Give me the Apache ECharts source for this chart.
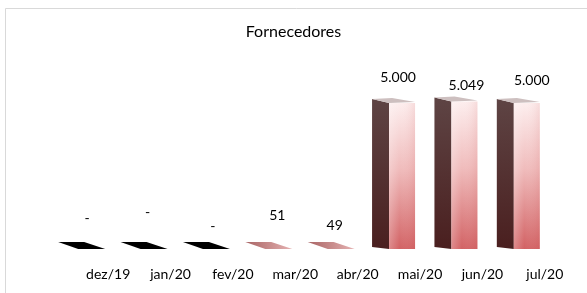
<!DOCTYPE html>
<html>
<head>
<meta charset="utf-8">
<script src="https://cdn.jsdelivr.net/npm/echarts@6/dist/echarts.min.js"></script>
<style>
  html, body { margin: 0; padding: 0; background: #fff; }
  #main { width: 587px; height: 293px; }
</style>
</head>
<body>
<div id="main"></div>
<script>
'use strict';
// dados do grafico
var categorias = ['dez/19', 'jan/20', 'fev/20', 'mar/20', 'abr/20', 'mai/20', 'jun/20', 'jul/20'];
var valores = [0, 0, 0, 51, 49, 5000, 5049, 5000];

// deslocamento dos rotulos (estilo, como no excel 3D)
var rotuloDx = [-21, -23, -20, -18, -23, -22, -16, -13];
var rotuloDy = [-29, -35, -21, -30, -20, -22, -12, -19];

(function() {
    var myChart = echarts.init(document.getElementById('main'));
    var fonte = 'Lato, "Noto Sans", sans-serif';

    function formata(v) {
        if (!v) return '-';
        return String(v).replace(/\B(?=(\d{3})+(?!\d))/g, '.');
    }

    function desenhaBarra(params, api) {
        var i = api.value(0);
        var v = api.value(1);
        var topo = api.coord([i, v]);
        var base = api.coord([i, 0]);
        var L = topo[0], T = topo[1], B = base[1];
        var xL = L - 48, xM = L - 31, xR = L - 5;
        var filhos = [];

        if (B - T < 4) {
            // barra "achatada"
            filhos.push({
                type: 'polygon',
                shape: { points: [[xL - 2, B - 5], [xL + 24, B - 5], [xR + 2, B + 2], [xL + 18, B + 2]] },
                style: {
                    fill: v === 0 ? '#000' : new echarts.graphic.LinearGradient(0, 0, 1, 0, [
                        { offset: 0, color: '#a86464' },
                        { offset: 1, color: '#e6b2b2' }
                    ])
                }
            });
        } else {
            // lado escuro
            filhos.push({
                type: 'polygon',
                shape: { points: [[xL, T], [xM, T + 4], [xM, B + 2], [xL, B]] },
                style: {
                    fill: new echarts.graphic.LinearGradient(0, 0, 0, 1, [
                        { offset: 0, color: '#5e4444' },
                        { offset: 1, color: '#4a1f1f' }
                    ])
                }
            });
            // frente clara
            filhos.push({
                type: 'polygon',
                shape: { points: [[xM, T + 4], [xR, T + 4], [xR, B + 2], [xM, B + 2]] },
                style: {
                    fill: new echarts.graphic.LinearGradient(0, 0, 0, 1, [
                        { offset: 0, color: '#fdeeee' },
                        { offset: 0.45, color: '#f0bcbc' },
                        { offset: 1, color: '#d26264' }
                    ])
                }
            });
            // brilho horizontal da frente
            filhos.push({
                type: 'polygon',
                shape: { points: [[xM, T + 4], [xR, T + 4], [xR, B + 2], [xM, B + 2]] },
                style: {
                    fill: new echarts.graphic.LinearGradient(0, 0, 1, 0, [
                        { offset: 0, color: 'rgba(255,255,255,0.25)' },
                        { offset: 0.4, color: 'rgba(255,255,255,0)' },
                        { offset: 1, color: 'rgba(200,80,80,0.12)' }
                    ])
                }
            });
            // tampa
            filhos.push({
                type: 'polygon',
                shape: { points: [[xL, T], [xL + 20, T - 1], [xR, T + 3], [xM, T + 4]] },
                style: { fill: '#cdbfbf' }
            });
        }

        filhos.push({
            type: 'text',
            style: {
                text: formata(v),
                x: L + rotuloDx[i],
                y: T + rotuloDy[i],
                align: 'center',
                verticalAlign: 'middle',
                fill: '#000',
                font: '14px ' + fonte
            }
        });

        return { type: 'group', children: filhos };
    }

    var option = {
        backgroundColor: '#fff',
        animation: false,
        title: {
            text: 'Fornecedores',
            left: 'center',
            top: 24,
            padding: 0,
            textStyle: {
                color: '#000',
                fontWeight: 'normal',
                fontSize: 16,
                fontFamily: fonte
            }
        },
        graphic: [{
            type: 'rect',
            shape: { x: 5.5, y: 8.5, width: 600, height: 300 },
            style: { fill: 'none', stroke: '#d9d9d9', lineWidth: 1 },
            silent: true
        }],
        grid: { left: 77, right: 11, top: 69.4, bottom: 46 },
        xAxis: {
            type: 'category',
            data: categorias,
            axisLine: { show: false },
            axisTick: { show: false },
            splitLine: { show: false },
            axisLabel: {
                margin: 20,
                color: '#000',
                fontSize: 14,
                fontFamily: fonte
            }
        },
        yAxis: {
            type: 'value',
            show: false,
            min: 0,
            max: 6000
        },
        series: [{
            name: 'Fornecedores',
            type: 'custom',
            renderItem: desenhaBarra,
            data: valores.map(function(v, i) { return [i, v]; })
        }]
    };

    myChart.setOption(option);
})();
</script>
</body>
</html>
